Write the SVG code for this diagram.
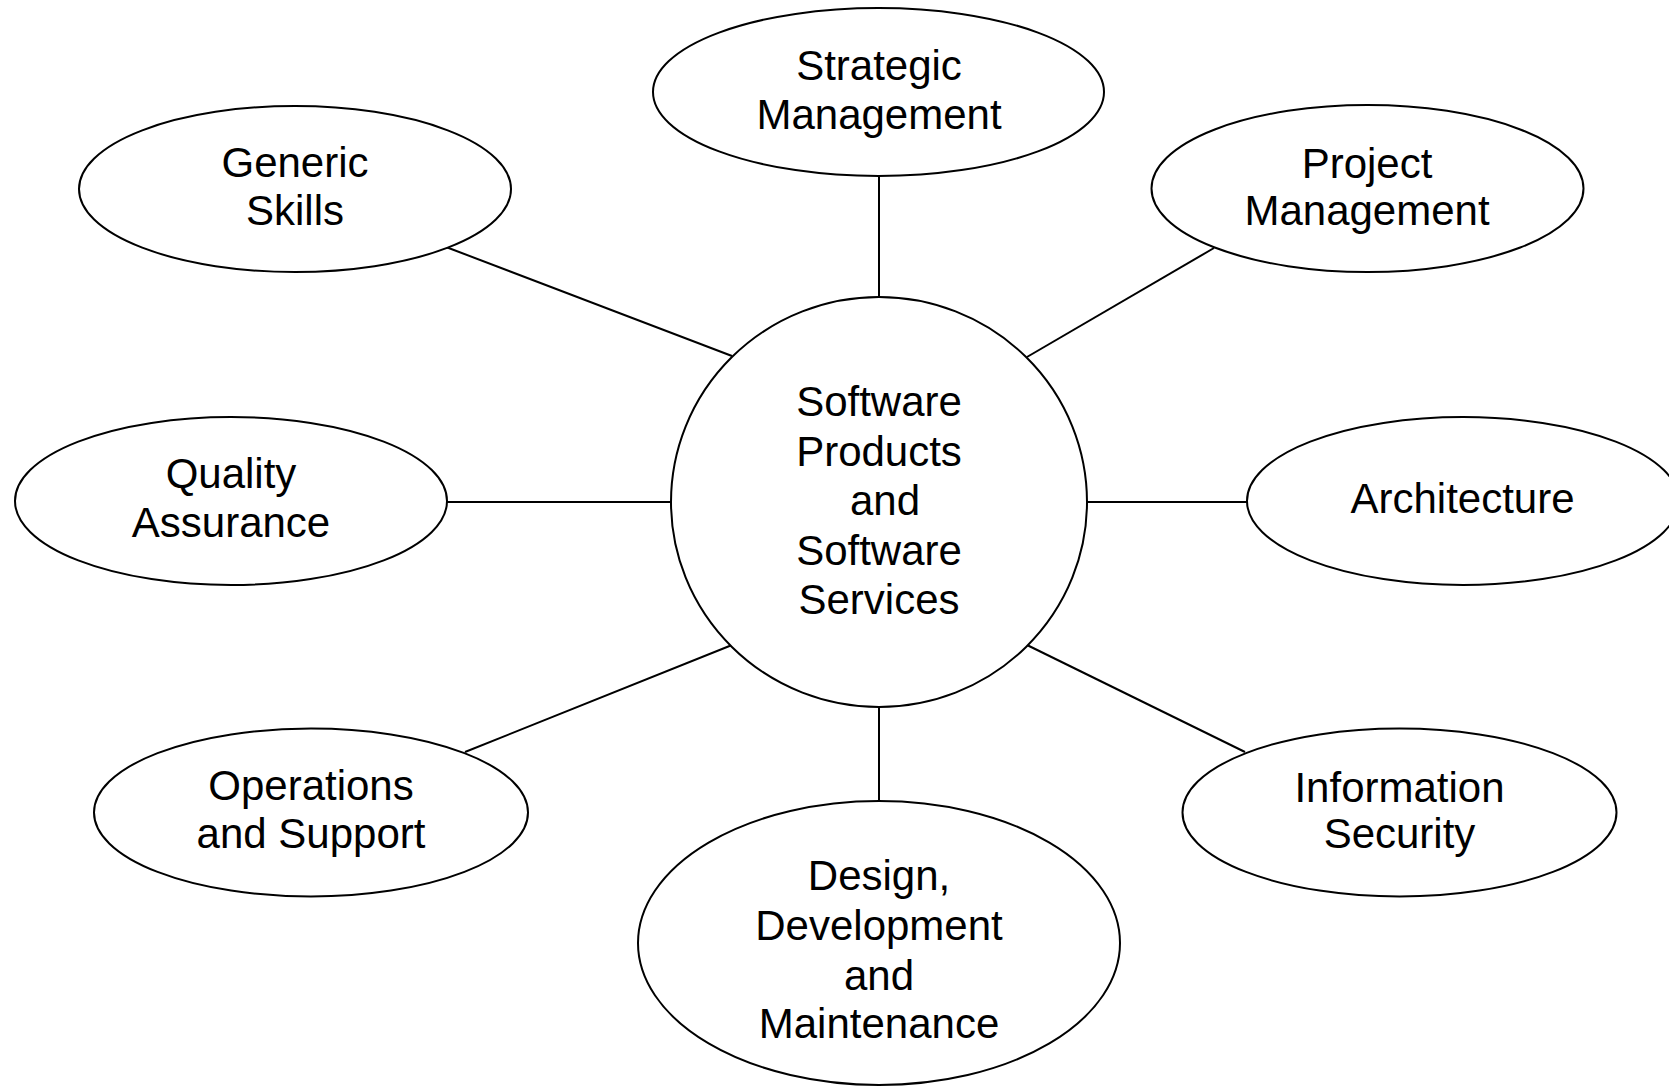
<svg xmlns="http://www.w3.org/2000/svg" width="1669" height="1087" viewBox="0 0 1669 1087">
<style>
.n{fill:#fff;stroke:#000;stroke-width:2}
.c line{stroke:#000;stroke-width:2}
text{font-family:"Liberation Sans",Arial,sans-serif;font-size:42px;fill:#000;text-anchor:middle}
</style>
<rect width="1669" height="1087" fill="#fff"/>
<g class="c" id="connectors">
<line x1="879" y1="176" x2="879" y2="297"/>
<line x1="446" y1="247" x2="732" y2="356"/>
<line x1="1214" y1="248" x2="1027" y2="357"/>
<line x1="446" y1="502" x2="671" y2="502"/>
<line x1="1087" y1="502" x2="1247" y2="502"/>
<line x1="465" y1="752" x2="732" y2="645"/>
<line x1="1245" y1="752" x2="1027" y2="645"/>
<line x1="879" y1="707" x2="879" y2="801"/>
</g>
<g id="center"><ellipse class="n" cx="879" cy="502" rx="208" ry="205"/>
<text x="879" y="416">Software</text><text x="879" y="465.5">Products</text><text x="885" y="515">and</text><text x="879" y="564.5">Software</text><text x="879" y="614">Services</text></g>
<g id="strategic"><ellipse class="n" cx="878.5" cy="92" rx="225.5" ry="84"/>
<text x="879" y="80">Strategic</text><text x="879" y="129">Management</text></g>
<g id="generic"><ellipse class="n" cx="295" cy="189" rx="216" ry="83"/>
<text x="295" y="177">Generic</text><text x="295" y="225">Skills</text></g>
<g id="project"><ellipse class="n" cx="1367.5" cy="188.5" rx="216" ry="83.5"/>
<text x="1367" y="177.5">Project</text><text x="1367" y="225">Management</text></g>
<g id="quality"><ellipse class="n" cx="231" cy="501" rx="216" ry="84"/>
<text x="231" y="488">Quality</text><text x="231" y="536.5">Assurance</text></g>
<g id="architecture"><ellipse class="n" cx="1463" cy="501" rx="216" ry="84"/>
<text x="1462.5" y="513">Architecture</text></g>
<g id="operations"><ellipse class="n" cx="311" cy="812.5" rx="217" ry="84"/>
<text x="311" y="800">Operations</text><text x="311" y="848">and Support</text></g>
<g id="infosec"><ellipse class="n" cx="1399.5" cy="812.5" rx="217" ry="84"/>
<text x="1399.5" y="801.5">Information</text><text x="1399.5" y="848">Security</text></g>
<g id="design"><ellipse class="n" cx="879" cy="943" rx="241" ry="142"/>
<text x="879" y="890">Design,</text><text x="879" y="940">Development</text><text x="879" y="990">and</text><text x="879" y="1038">Maintenance</text></g>
</svg>
